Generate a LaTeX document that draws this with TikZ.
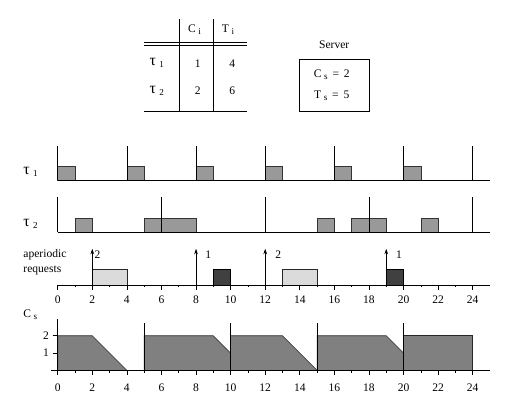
\documentclass[tikz,border=0pt]{standalone}
\usepackage{fontspec}
\setmainfont{Liberation Serif}
\usetikzlibrary{arrows.meta}
\newcommand{\lo}[1]{\hspace{0.22em}{\fontsize{7.5}{8}\selectfont\raisebox{-0.45ex}{#1}}}
\tikzset{
  job/.style={draw=black!80, fill=black!40},
  reqa/.style={draw=black!85, fill=black!14},
  reqb/.style={draw=black, fill=black!75},
  budget/.style={draw=black!85, fill=black!50},
  txt/.style={font=\fontsize{9.5}{11}\selectfont, inner sep=0pt},
  tau/.style={font=\fontsize{13}{14}\selectfont, inner sep=0pt},
}
\begin{document}
\begin{tikzpicture}[x=0.5cm, y=0.5cm, line width=0.5pt]
\useasboundingbox (-3.337,-2.123) rectangle (27.43,21.42);

% task table
\draw[] (7.03,20.32) -- (7.03,15.01);
\draw[] (9.0,20.32) -- (9.0,15.01);
\draw[] (4.99,18.97) -- (10.97,18.97);
\draw[] (4.99,18.80) -- (10.97,18.80);
\draw[] (4.99,15.01) -- (10.97,15.01);
\node[txt] (hc) at (7.91,19.68) {C\lo{i}};
\node[txt] (ht) at (9.85,19.68) {T\lo{i}};
\node[tau] (rt1) at (5.73,17.76) {τ\lo{1}};
\node[tau] (rt2) at (5.73,16.17) {τ\lo{2}};
\node[txt] (c1) at (8.1,17.76) {1};
\node[txt] (t1) at (10.1,17.76) {4};
\node[txt] (c2) at (8.1,16.17) {2};
\node[txt] (t2) at (10.1,16.17) {6};

% server
\node[txt] (srv) at (15.99,18.81) {Server};
\draw[] (14,15.01) rectangle (18,17.99);
\node[txt] (cs) at (15.85,17.12) {C\lo{s}\, = \,2};
\node[txt] (ts) at (15.85,15.86) {T\lo{s}\, = \,5};

% tau 1
\node[tau] (lt1) at (-1.57,11.49) {τ\lo{1}};
\foreach \t in {0,4,...,20} \draw[job] (\t,11) rectangle (\t+1,11.8);
\draw[] (0,11) -- (25,11);
\foreach \t in {0,4,...,24} \draw[] (\t,11) -- (\t,13);

% tau 2
\node[tau] (lt2) at (-1.57,8.46) {τ\lo{2}};
\draw[job] (1,8) rectangle (2,8.8);
\draw[job] (5,8) rectangle (8,8.8);
\draw[job] (15,8) rectangle (16,8.8);
\draw[job] (17,8) rectangle (19,8.8);
\draw[job] (21,8) rectangle (22,8.8);
\draw[] (0,8) -- (25,8);
\foreach \t in {0,6,...,24} \draw[] (\t,8) -- (\t,10);

% aperiodic requests
\node[txt, anchor=west] (ap1) at (-2.0,6.67) {aperiodic};
\node[txt, anchor=west] (ap2) at (-2.0,5.80) {requests};
\draw[reqa] (2,4.93) rectangle (4,5.83);
\draw[reqb] (9,4.93) rectangle (10,5.83);
\draw[reqa] (13,4.93) rectangle (15,5.83);
\draw[reqb] (19,4.93) rectangle (20,5.83);
\draw[] (0,4.93) -- (25,4.93);
\foreach \t in {0,2,...,24} \draw[] (\t,4.93) -- (\t,4.63);
\foreach \t in {1,3,...,23} \draw[] (\t,4.93) -- (\t,4.80);
\foreach \t/\n/\dx in {2/2/0.3, 8/1/0.71, 12/2/0.76, 19/1/0.74} {
  \draw[-{Stealth[length=4.5pt,width=3pt]}] (\t,4.93) -- (\t,7.03);
  \node[txt] (rq\t) at (\t+\dx,6.67) {\n};
}
\foreach \t in {0,2,...,24} \node[txt] (ta\t) at (\t,4.07) {\t};

% server capacity
\node[txt, anchor=west] (lcs) at (-2.0,3.2) {C\lo{s}};
\draw[budget] (0,0) -- (0,2) -- (2,2) -- (4,0) -- cycle;
\draw[budget] (5,0) -- (5,2) -- (9,2) -- (10,1) -- (10,0) -- cycle;
\draw[budget] (10,0) -- (10,2) -- (13,2) -- (15,0) -- cycle;
\draw[budget] (15,0) -- (15,2) -- (19,2) -- (20,1) -- (20,0) -- cycle;
\draw[budget] (20,0) -- (20,2) -- (24,2) -- (24,0) -- cycle;
\draw[] (-0.4,0) -- (25,0);
\draw[] (0,-0.25) -- (0,2.97);
\foreach \t in {5,10,15,20} \draw[] (\t,0) -- (\t,2.75);
\draw[] (-0.3,1) -- (0,1);
\draw[] (-0.3,2) -- (0,2);
\node[txt] (y1) at (-0.68,1) {1};
\node[txt] (y2) at (-0.68,2) {2};
\foreach \t in {0,2,...,24} \draw[] (\t,0) -- (\t,-0.25);
\foreach \t in {1,3,...,23} \draw[] (\t,0) -- (\t,-0.13);
\foreach \t in {0,2,...,24} \node[txt] (tc\t) at (\t,-0.98) {\t};
\end{tikzpicture}
\end{document}
